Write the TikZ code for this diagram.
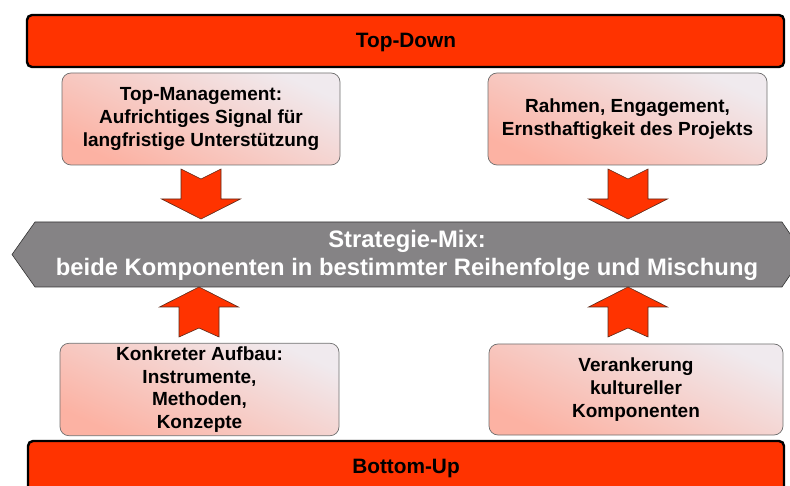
\documentclass[tikz,border=0pt]{standalone}
\usepackage{fontspec}
\setmainfont{Liberation Sans}
\usetikzlibrary{calc}
\definecolor{barred}{HTML}{FF3300}
\definecolor{mixgray}{HTML}{858385}
\definecolor{boxlow}{HTML}{FCB2A3}
\definecolor{boxhigh}{HTML}{F0EAEE}
\definecolor{boxline}{HTML}{6E6E6E}
\definecolor{arrowline}{HTML}{5A2A1A}
\tikzset{
  levelbar/.style={draw=black, line width=2.4pt, fill=barred, rounded corners=5pt},
  bartext/.style={font=\bfseries\fontsize{20.8}{24}\selectfont, text=black},
  infobox/.style={draw=boxline, line width=0.7pt, rounded corners=9pt,
    top color=boxhigh, bottom color=boxlow, shading angle=-25,
    align=center, font=\bfseries\fontsize{19}{22.7}\selectfont, text=black},
  mixband/.style={draw=black!80, line width=0.6pt, fill=mixgray},
  blockarrow/.style={draw=arrowline, line width=0.6pt, fill=barred},
  downblk/.pic={\path[blockarrow] (-20,0) -- (0,10) -- (20,0) -- (20,30) -- (39.5,30)
      -- (0,50) -- (-39.5,30) -- (-20,30) -- cycle;},
  upblk/.pic={\path[blockarrow] (0,0) -- (39.5,20) -- (20,20) -- (20,50) -- (0,41)
      -- (-20,50) -- (-20,20) -- (-39.5,20) -- cycle;},
}
\begin{document}
\begin{tikzpicture}[x=1pt, y=-1pt]
\useasboundingbox (0,0) rectangle (790,486);
\clip (0,0) rectangle (790,486);

% top and bottom level bars
\draw[levelbar] (27,15) rectangle (784,67);
\node[bartext] (topdown) at (406,42.5) {Top-Down};
\draw[levelbar] (28,441) rectangle (784,510);
\node[bartext] (bottomup) at (406,469) {Bottom-Up};

% content boxes
\node[infobox, minimum width=278pt, minimum height=92pt] (tl) at (201,119)
  {Top-Management:\\Aufrichtiges Signal für\\langfristige Unterstützung};
\node[infobox, minimum width=279pt, minimum height=92pt] (tr) at (627.5,119)
  {Rahmen, Engagement,\\Ernsthaftigkeit des Projekts};
\node[infobox, minimum width=279pt, minimum height=91pt] (bl) at (199.5,389.5)
  {Konkreter Aufbau:\\Instrumente,\\Methoden,\\Konzepte};
\node[infobox, minimum width=294pt, minimum height=91pt] (br) at (636,389.5)
  {Verankerung\\kultureller\\Komponenten};

% strategy band
\path[mixband] (35,222) -- (782,222) -- (804,254.5) -- (782,287) -- (35,287)
  -- (12,254.5) -- cycle;
\node[align=center, text=white, font=\bfseries\fontsize{23.8}{28}\selectfont]
  (mix) at (407,255)
  {Strategie-Mix:\\beide Komponenten in bestimmter Reihenfolge und Mischung};

% block arrows towards the band
\pic at (201,169) {downblk};
\pic at (628,169) {downblk};
\pic at (199,287) {upblk};
\pic at (628,287) {upblk};
\end{tikzpicture}
\end{document}
